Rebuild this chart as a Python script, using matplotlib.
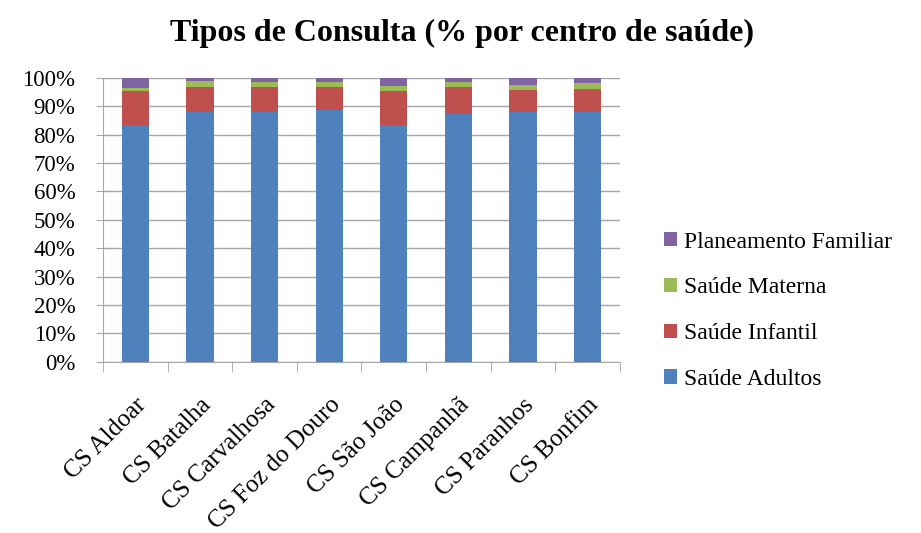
import matplotlib
matplotlib.use("Agg")
import matplotlib.pyplot as plt
import numpy as np
from matplotlib.ticker import PercentFormatter

# data (% per health centre)
centros = ["CS Aldoar", "CS Batalha", "CS Carvalhosa", "CS Foz do Douro",
           "CS São João", "CS Campanhã", "CS Paranhos", "CS Bonfim"]
adultos = [83.5, 87.9, 87.9, 88.5, 83.3, 87.4, 87.9, 87.9]
infantil = [11.7, 8.8, 8.8, 8.2, 11.9, 9.3, 7.7, 8.3]
materna = [1.2, 2.1, 1.8, 1.8, 1.8, 1.8, 1.8, 1.8]
planeamento = [3.6, 1.2, 1.5, 1.5, 3.0, 1.5, 2.6, 2.0]

series = [("Saúde Adultos", adultos, "#4f81bd"),
          ("Saúde Infantil", infantil, "#c0504d"),
          ("Saúde Materna", materna, "#9bbb59"),
          ("Planeamento Familiar", planeamento, "#8064a2")]

plt.rcParams['font.family'] = ['Liberation Serif', 'DejaVu Serif']

fig = plt.figure(figsize=(9.21, 5.33), dpi=100)
ax = fig.add_axes([0.112, 0.321, 0.561, 0.533])

x = np.arange(len(centros))
bottom = np.zeros(len(centros))
handles = []
for nome, vals, cor in series:
    b = ax.bar(x, vals, width=0.42, bottom=bottom, color=cor, label=nome, zorder=3)
    handles.append(b)
    bottom += np.array(vals)

ax.set_ylim(0, 100)
ax.set_xlim(-0.5, len(centros) - 0.5)
ax.set_yticks(np.arange(0, 101, 10))
ax.yaxis.set_major_formatter(PercentFormatter(decimals=0))
ax.yaxis.grid(True, color="#a6a6a6", linewidth=1, zorder=0)

ax.set_xticks(x)
ax.set_xticklabels(centros, rotation=45, ha="right", rotation_mode="anchor", fontsize=18)
ax.set_xticks(np.arange(-0.5, len(centros), 1), minor=True)
ax.tick_params(axis="x", which="major", length=0, pad=23)
ax.tick_params(axis="x", which="minor", length=7, color="#a6a6a6")
ax.tick_params(axis="y", length=5, color="#a6a6a6", labelsize=16.5, pad=15)

for s in ["top", "right"]:
    ax.spines[s].set_visible(False)
for s in ["left", "bottom"]:
    ax.spines[s].set_color("#a6a6a6")

fig.suptitle("Tipos de Consulta (% por centro de saúde)", x=0.502, y=0.965,
             fontsize=23, fontweight="bold")

leg = ax.legend(handles[::-1], [s[0] for s in series][::-1],
                loc="center left", bbox_to_anchor=(1.045, 0.18),
                frameon=False, fontsize=17, handlelength=0.55, handleheight=0.55,
                handletextpad=0.3, labelspacing=1.05)

fig.savefig("out.png", dpi=100)
